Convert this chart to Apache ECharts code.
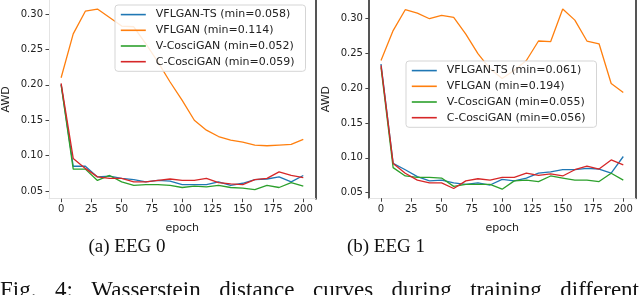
<!DOCTYPE html>
<html>
<head>
<meta charset="utf-8">
<script src="https://cdn.jsdelivr.net/npm/echarts@6/dist/echarts.min.js"></script>
<style>
html,body{margin:0;padding:0;background:#fff;}
#chart{width:640px;height:295px;}
</style>
</head>
<body>
<div id="chart"></div>
<script>
// ---- data ----
const epochs = [0,10,20,30,40,50,60,70,80,90,100,110,120,130,140,150,160,170,180,190,200];
const xTickValues = [0,25,50,75,100,125,150,175,200];
const yTickValues = [0.05,0.10,0.15,0.20,0.25,0.30];
const methodNames = ['VFLGAN-TS','VFLGAN','V-CosciGAN','C-CosciGAN'];
const eeg0MinLabels = ['0.058','0.114','0.052','0.059'];
const eeg1MinLabels = ['0.061','0.194','0.055','0.056'];
const captionA = '(a) EEG 0';
const captionB = '(b) EEG 1';
const figCaptionWords = ['Fig.','4:','Wasserstein','distance','curves','during','training','different'];

// EEG 0
const eeg0VflganTs = [0.201,0.085,0.085,0.070,0.071,0.068,0.066,0.063,0.065,0.064,0.059,0.059,0.059,0.063,0.058,0.061,0.066,0.067,0.070,0.063,0.072];
const eeg0Vflgan   = [0.210,0.272,0.304,0.307,0.295,0.283,0.282,0.258,0.232,0.204,0.178,0.150,0.136,0.127,0.122,0.119,0.115,0.114,0.115,0.116,0.123];
const eeg0VCosci   = [0.200,0.081,0.081,0.065,0.072,0.063,0.058,0.059,0.059,0.058,0.055,0.057,0.056,0.058,0.055,0.054,0.052,0.058,0.055,0.062,0.057];
const eeg0CCosci   = [0.202,0.096,0.082,0.070,0.068,0.068,0.063,0.063,0.065,0.067,0.065,0.065,0.068,0.062,0.060,0.059,0.066,0.068,0.077,0.072,0.069];
// EEG 1
const eeg1VflganTs = [0.235,0.092,0.083,0.073,0.067,0.068,0.064,0.062,0.064,0.061,0.069,0.067,0.071,0.078,0.080,0.083,0.083,0.085,0.084,0.078,0.102];
const eeg1Vflgan   = [0.240,0.283,0.313,0.308,0.300,0.305,0.302,0.278,0.250,0.228,0.214,0.226,0.240,0.268,0.267,0.314,0.298,0.268,0.264,0.207,0.194];
const eeg1VCosci   = [0.230,0.086,0.074,0.072,0.072,0.071,0.059,0.062,0.062,0.062,0.055,0.067,0.068,0.066,0.074,0.071,0.068,0.068,0.066,0.078,0.068];
const eeg1CCosci   = [0.233,0.092,0.078,0.068,0.064,0.064,0.056,0.067,0.070,0.068,0.072,0.072,0.078,0.075,0.077,0.074,0.083,0.088,0.084,0.097,0.090];

const colors = ['#1f77b4','#ff7f0e','#2ca02c','#d62728'];
const eeg0Data = [eeg0VflganTs, eeg0Vflgan, eeg0VCosci, eeg0CCosci];
const eeg1Data = [eeg1VflganTs, eeg1Vflgan, eeg1VCosci, eeg1CCosci];

// ---- chart ----
const FONT = 'DejaVu Sans';
const SERIF = 'Liberation Serif';
const names0 = methodNames.map((n,i)=>n+' (min='+eeg0MinLabels[i]+')');
const names1 = methodNames.map((n,i)=>n+' (min='+eeg1MinLabels[i]+')');

const yRange0 = [0.0392, 0.3198];
const yRange1 = [0.04205, 0.32695];

function xAxisCfg(gi){
  return {
    type:'value', gridIndex:gi, min:-10, max:210,
    name:'epoch', nameLocation:'middle', nameGap:24,
    nameTextStyle:{fontFamily:FONT,fontSize:11,color:'#222'},
    axisLine:{show:true,onZero:false,lineStyle:{color:'#e4e4e4',width:1}},
    axisTick:{show:true,customValues:xTickValues,length:3.5,lineStyle:{color:'#444'}},
    axisLabel:{customValues:xTickValues,margin:6,fontFamily:FONT,fontSize:10,color:'#222'},
    splitLine:{show:false}
  };
}
function yAxisCfg(gi, range, lineColor, lineWidth){
  return {
    type:'value', gridIndex:gi, min:range[0], max:range[1],
    name:'AWD', nameLocation:'middle', nameGap:37,
    nameTextStyle:{fontFamily:FONT,fontSize:11,color:'#222'},
    axisLine:{show:true,onZero:false,lineStyle:{color:lineColor,width:lineWidth}},
    axisTick:{show:true,customValues:yTickValues,length:3.5,lineStyle:{color:'#444'}},
    axisLabel:{customValues:yTickValues,margin:6,fontFamily:FONT,fontSize:10,color:'#222',
      formatter:v=>v.toFixed(2)},
    splitLine:{show:false}
  };
}
function rightEdgeAxis(gi, range){
  return {
    type:'value', gridIndex:gi, min:range[0], max:range[1], position:'right',
    axisLine:{show:true,onZero:false,lineStyle:{color:'#555',width:2}},
    axisTick:{show:false}, axisLabel:{show:false}, splitLine:{show:false}
  };
}
function legendCfg(names, left, top){
  return {
    data:names, orient:'vertical', left:left, top:top,
    itemWidth:25, itemHeight:14, itemGap:4.5,
    padding:[4,11,4,5],
    backgroundColor:'rgba(255,255,255,0.85)',
    borderColor:'#d5d5d5', borderWidth:1, borderRadius:3,
    itemStyle:{color:'rgba(0,0,0,0)', borderColor:'rgba(0,0,0,0)', borderWidth:0},
    lineStyle:{width:1.6},
    textStyle:{fontFamily:FONT,fontSize:11,color:'#222',padding:[0,0,0,5]}
  };
}

const series = [];
[eeg0Data, eeg1Data].forEach((set, gi)=>{
  const names = gi===0 ? names0 : names1;
  set.forEach((vals, i)=>{
    series.push({
      type:'line', name:names[i], xAxisIndex:gi, yAxisIndex:gi===0?0:2,
      data: epochs.map((e,k)=>[e, vals[k]]),
      symbol:'none', showSymbol:false, animation:false,
      lineStyle:{color:colors[i], width:1.3},
      itemStyle:{color:colors[i]}
    });
  });
});

// justified figure caption line (words spread across the full width)
const capSize = 23;
const meas = document.createElement('canvas').getContext('2d');
meas.font = capSize + 'px "' + SERIF + '"';
const wordW = figCaptionWords.map(w=>meas.measureText(w).width);
const lineWidth = 639;
const gap = (lineWidth - wordW.reduce((a,b)=>a+b,0)) / (figCaptionWords.length-1);
const graphics = [
  {type:'text', x:127, y:247, style:{text:captionA, fontFamily:SERIF, fontSize:19, fill:'#111', align:'center', verticalAlign:'middle'}},
  {type:'text', x:386, y:247, style:{text:captionB, fontFamily:SERIF, fontSize:19, fill:'#111', align:'center', verticalAlign:'middle'}}
];
let cx = 0;
figCaptionWords.forEach((w,i)=>{
  graphics.push({type:'text', x:cx, y:279, style:{text:w, fontFamily:SERIF, fontSize:capSize, fill:'#111', align:'left', verticalAlign:'top'}});
  cx += wordW[i] + gap;
});

const option = {
  animation:false,
  color:colors,
  grid:[
    {left:48.9, top:-0.8, width:266.5, height:199.5},
    {left:368.9, top:-0.5, width:266.5, height:198.7}
  ],
  xAxis:[xAxisCfg(0), xAxisCfg(1)],
  yAxis:[
    yAxisCfg(0, yRange0, '#e4e4e4', 1),
    rightEdgeAxis(0, yRange0),
    yAxisCfg(1, yRange1, '#555', 2),
    rightEdgeAxis(1, yRange1)
  ],
  legend:[legendCfg(names0, 115, 5), legendCfg(names1, 406, 61)],
  graphic:graphics,
  series:series
};

const chart = echarts.init(document.getElementById('chart'), null, {renderer:'canvas'});
chart.setOption(option);
</script>
</body>
</html>
